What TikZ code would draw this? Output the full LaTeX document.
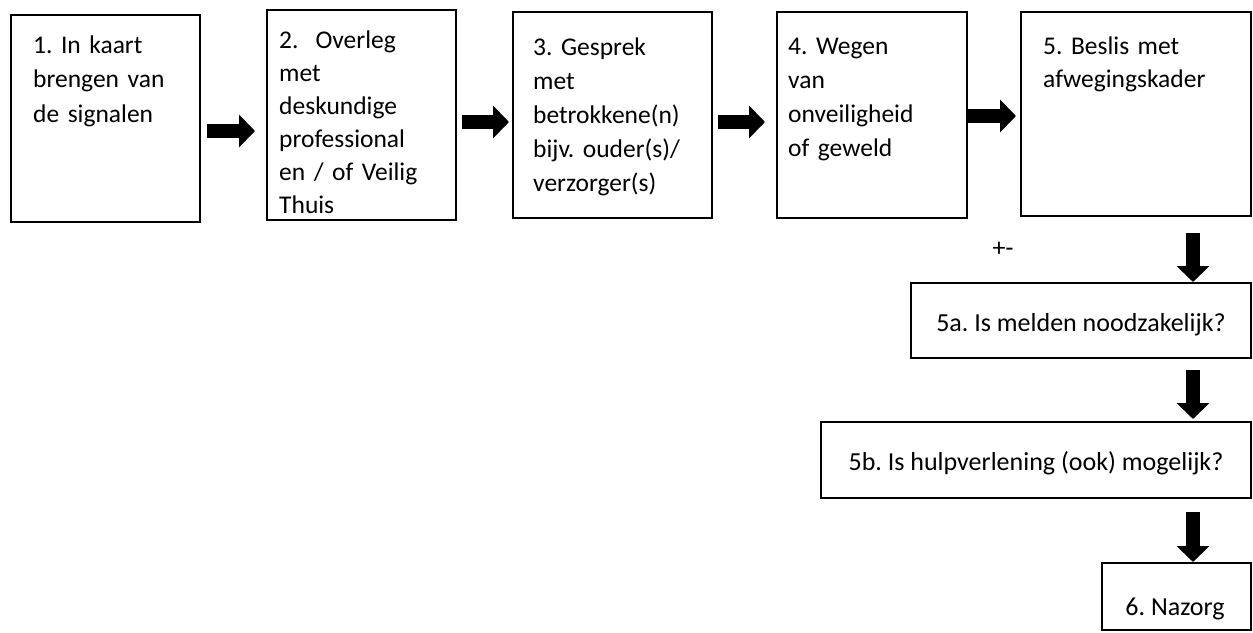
\documentclass[tikz,border=0pt]{standalone}
\usepackage{fontspec}
\setmainfont{Carlito}
\usetikzlibrary{arrows.meta,calc}
\frenchspacing

\begin{document}
\begin{tikzpicture}[x=1pt,y=-1pt,
  box/.style={draw,line width=2pt,inner sep=0pt,outer sep=0pt,anchor=north west},
  boxtext/.style={inner sep=0pt,anchor=base west,text width=185pt,align=left,font=\fontsize{25.5}{34}\selectfont},
  midtext/.style={inner sep=0pt,anchor=base,font=\fontsize{26}{30}\selectfont},
  blockarrow/.style={line width=14pt,-{Triangle[length=16pt,width=32pt]}}]
\useasboundingbox (0,0) rectangle (1253,632);

\node[box,minimum width=189pt,minimum height=207pt] (b1) at (11,15) {};
\node[box,minimum width=189pt,minimum height=210pt] (b2) at (267,10) {};
\node[box,minimum width=199pt,minimum height=206pt] (b3) at (513,12) {};
\node[box,minimum width=190pt,minimum height=206pt] (b4) at (777,12) {};
\node[box,minimum width=230pt,minimum height=204pt] (b5) at (1021,12) {};
\node[box,minimum width=340pt,minimum height=75pt] (b5a) at (911,283) {};
\node[box,minimum width=430pt,minimum height=76pt] (b5b) at (821,422) {};
\node[box,minimum width=149pt,minimum height=67pt] (b6) at (1102,563) {};

\node[boxtext,font=\fontsize{25.5}{34.5}\selectfont] (t1) at (33,53) {1. In kaart\\brengen van\\de signalen};
\node[boxtext,font=\fontsize{25.5}{33}\selectfont] (t2) at (279,48) {2.\ \ Overleg\\met\\deskundige\\professional\\en / of Veilig\\Thuis};
\node[boxtext] (t3) at (533,55) {3. Gesprek\\met\\betrokkene(n)\\bijv. ouder(s)/\\verzorger(s)};
\node[boxtext] (t4) at (788,54) {4. Wegen\\van\\onveiligheid\\of geweld};
\node[boxtext,font=\fontsize{25.5}{33}\selectfont] (t5) at (1043,54) {5. Beslis met\\afwegingskader};
\node[midtext] (t5a) at (1081,331) {5a. Is melden noodzakelijk?};
\node[midtext] (t5b) at (1036,470) {5b. Is hulpverlening (ook) mogelijk?};
\node[midtext] (t6) at (1175,615) {6. Nazorg};
\node[midtext] (pm) at (1003,256) {+-};

\draw[blockarrow,shorten <=7pt,shorten >=12pt] (b1.east |- 0,131) -- (b2.west |- 0,131);
\draw[blockarrow,shorten <=6pt,shorten >=4pt] (b2.east |- 0,122) -- (b3.west |- 0,122);
\draw[blockarrow,shorten <=6pt,shorten >=12pt] (b3.east |- 0,122) -- (b4.west |- 0,122);
\draw[blockarrow,shorten <=1pt,shorten >=5pt] (b4.east |- 0,116) -- (b5.west |- 0,116);

\draw[blockarrow,shorten <=17pt,shorten >=1pt] (b5.south -| 1193,0) -- (b5a.north -| 1193,0);
\draw[blockarrow,shorten <=12pt,shorten >=3pt] (b5a.south -| 1193,0) -- (b5b.north -| 1193,0);
\draw[blockarrow,shorten <=14pt,shorten >=1pt] (b5b.south -| 1193,0) -- (b6.north -| 1193,0);

\end{tikzpicture}
\end{document}
